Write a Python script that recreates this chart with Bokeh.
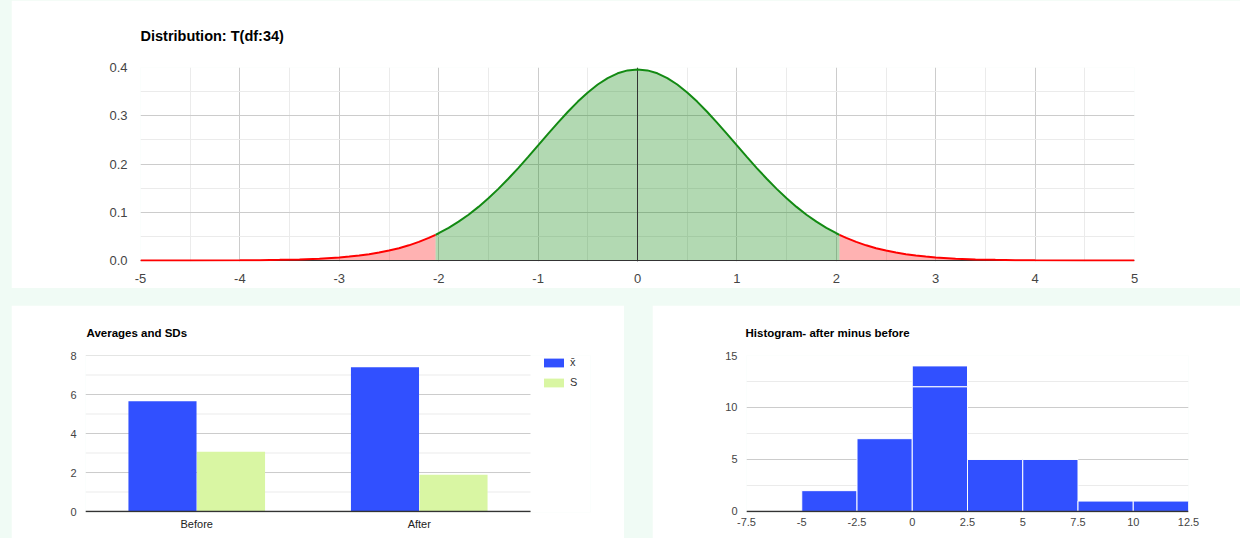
from bokeh.plotting import figure
from bokeh.models import Range1d, FixedTicker, Legend, LegendItem, Spacer
from bokeh.layouts import column, row
from bokeh.embed import file_html
from bokeh.resources import INLINE

FONT = "Liberation Sans"
MINT = "#f0fbf5"
BLUE = "#3150ff"
LIGHTGREEN = "#d9f6a3"
LABEL_COLOR = "#444444"

# ---------------- data: t distribution (df = 34) ----------------
t_title = "Distribution: T(df:34)"
t_x = [-5.0, -4.5, -4.0, -3.8, -3.6, -3.4, -3.2, -3.0, -2.9, -2.8, -2.7, -2.6,
       -2.5, -2.4, -2.3, -2.2, -2.1, -2.032, -2.0, -1.9, -1.8, -1.7, -1.6, -1.5,
       -1.4, -1.3, -1.2, -1.1, -1.0, -0.9, -0.8, -0.7, -0.6, -0.5, -0.4, -0.3,
       -0.2, -0.1, 0.0, 0.1, 0.2, 0.3, 0.4, 0.5, 0.6, 0.7, 0.8, 0.9, 1.0, 1.1,
       1.2, 1.3, 1.4, 1.5, 1.6, 1.7, 1.8, 1.9, 2.0, 2.032, 2.1, 2.2, 2.3, 2.4,
       2.5, 2.6, 2.7, 2.8, 2.9, 3.0, 3.2, 3.4, 3.6, 3.8, 4.0, 4.5, 5.0]
t_density = [0.00003, 0.00011, 0.00046, 0.00081, 0.00139, 0.00236, 0.00395,
             0.00650, 0.00828, 0.01049, 0.01322, 0.01658, 0.02067, 0.02560,
             0.03152, 0.03856, 0.04686, 0.05329, 0.05655, 0.06774, 0.08052,
             0.09499, 0.11117, 0.12903, 0.14850, 0.16945, 0.19163, 0.21476,
             0.23846, 0.26229, 0.28575, 0.30830, 0.32936, 0.34837, 0.36478,
             0.37812, 0.38796, 0.39399, 0.39602, 0.39399, 0.38796, 0.37812,
             0.36478, 0.34837, 0.32936, 0.30830, 0.28575, 0.26229, 0.23846,
             0.21476, 0.19163, 0.16945, 0.14850, 0.12903, 0.11117, 0.09499,
             0.08052, 0.06774, 0.05655, 0.05329, 0.04686, 0.03856, 0.03152,
             0.02560, 0.02067, 0.01658, 0.01322, 0.01049, 0.00828, 0.00650,
             0.00395, 0.00236, 0.00139, 0.00081, 0.00046, 0.00011, 0.00003]
t_critical = 2.032
top_x_ticks = [-5, -4, -3, -2, -1, 0, 1, 2, 3, 4, 5]
top_x_labels = ["-5", "-4", "-3", "-2", "-1", "0", "1", "2", "3", "4", "5"]
top_y_ticks = [0.0, 0.1, 0.2, 0.3, 0.4]
top_y_labels = ["0.0", "0.1", "0.2", "0.3", "0.4"]

# ---------------- data: averages and SDs ----------------
bar_title = "Averages and SDs"
bar_categories = ["Before", "After"]
bar_means = [5.66, 7.40]
bar_sds = [3.07, 1.89]
bar_series = ["x\u0304", "S"]
bar_y_ticks = [0, 2, 4, 6, 8]
bar_y_labels = ["0", "2", "4", "6", "8"]

# ---------------- data: histogram ----------------
hist_title = "Histogram- after minus before"
hist_edges = [-7.5, -5, -2.5, 0, 2.5, 5, 7.5, 10, 12.5]
hist_counts = [0, 2, 7, 14, 5, 5, 1, 1]
hist_breaks = [[], [], [], [12], [], [], [], []]
hist_x_labels = ["-7.5", "-5", "-2.5", "0", "2.5", "5", "7.5", "10", "12.5"]
hist_y_ticks = [0, 5, 10, 15]
hist_y_labels = ["0", "5", "10", "15"]


def mids(ticks):
    return [(a + b) / 2 for a, b in zip(ticks[:-1], ticks[1:])]


def style(p, size, xstand, ystand):
    p.outline_line_color = None
    p.background_fill_color = "white"
    p.border_fill_color = "white"
    for ax in (p.xaxis[0], p.yaxis[0]):
        ax.axis_line_color = None
        ax.major_tick_line_color = None
        ax.minor_tick_line_color = None
        ax.major_tick_out = 0
        ax.major_tick_in = 0
        ax.minor_tick_out = 0
        ax.minor_tick_in = 0
        ax.major_label_text_font = FONT
        ax.major_label_text_font_size = size
        ax.major_label_text_color = LABEL_COLOR
    p.xaxis[0].major_label_standoff = xstand
    p.yaxis[0].major_label_standoff = ystand


def set_title(p, text, size, standoff, offset):
    p.title.text = text
    p.title.align = "left"
    p.title.vertical_align = "bottom"
    p.title.offset = offset
    p.title.standoff = standoff
    p.title.text_font = FONT
    p.title.text_font_style = "bold"
    p.title.text_font_size = size
    p.title.text_color = "#000000"


# ================= top: distribution =================
p1 = figure(width=1229, height=288, x_range=Range1d(-5, 5), y_range=Range1d(-0.002, 0.4),
            output_backend="svg", toolbar_location=None,
            min_border_left=129, min_border_right=106, min_border_top=67, min_border_bottom=27)
style(p1, "13px", 12, 13)
set_title(p1, t_title, "14.5px", 48, 0)
p1.xaxis.ticker = FixedTicker(ticks=top_x_ticks, minor_ticks=mids(top_x_ticks))
p1.yaxis.ticker = FixedTicker(ticks=top_y_ticks, minor_ticks=mids(top_y_ticks))
p1.xaxis.major_label_overrides = dict(zip(top_x_ticks, top_x_labels))
p1.yaxis.major_label_overrides = dict(zip(top_y_ticks, top_y_labels))
for g in (p1.xgrid[0], p1.ygrid[0]):
    g.grid_line_color = "#cccccc"
    g.minor_grid_line_color = "#ebebeb"

mid_x = [x for x in t_x if abs(x) <= t_critical]
mid_y = [y for x, y in zip(t_x, t_density) if abs(x) <= t_critical]
left_x = [x for x in t_x if x <= -t_critical]
left_y = [y for x, y in zip(t_x, t_density) if x <= -t_critical]
right_x = [x for x in t_x if x >= t_critical]
right_y = [y for x, y in zip(t_x, t_density) if x >= t_critical]

p1.varea(x=mid_x, y1=0, y2=mid_y, fill_color="green", fill_alpha=0.3)
p1.varea(x=left_x, y1=0, y2=left_y, fill_color="red", fill_alpha=0.3)
p1.varea(x=right_x, y1=0, y2=right_y, fill_color="red", fill_alpha=0.3)
p1.hspan(y=[0], line_color="#333333", line_width=1)
p1.vspan(x=[0], line_color="#333333", line_width=1)
p1.line(mid_x, mid_y, line_color="#138a13", line_width=2)
p1.line(left_x, left_y, line_color="#ff0000", line_width=2)
p1.line(right_x, right_y, line_color="#ff0000", line_width=2)

# ================= bottom-left: averages and SDs =================
n_cat = len(bar_categories)
# frame is widened to the right so that the legend (which is clipped to the frame) fits
p2 = figure(width=613, height=233, x_range=Range1d(0, n_cat * 505 / 445),
            y_range=Range1d(-0.05, 8), output_backend="svg", toolbar_location=None,
            min_border_left=74, min_border_right=34, min_border_top=50, min_border_bottom=26)
style(p2, "11px", 5, 9)
set_title(p2, bar_title, "11.5px", 34, 1)
p2.xaxis[0].major_label_text_color = "#222222"
centers = [i + 0.5 for i in range(n_cat)]
p2.xaxis.ticker = FixedTicker(ticks=centers)
p2.xaxis.major_label_overrides = dict(zip(centers, bar_categories))
p2.yaxis.ticker = FixedTicker(ticks=bar_y_ticks)
p2.yaxis.major_label_overrides = dict(zip(bar_y_ticks, bar_y_labels))
p2.xgrid.grid_line_color = None
p2.ygrid.visible = False
minor_y = mids(bar_y_ticks)
p2.segment(x0=[0] * len(minor_y), x1=[n_cat] * len(minor_y), y0=minor_y, y1=minor_y,
           line_color="#ebebeb", line_width=1)
p2.segment(x0=[0] * len(bar_y_ticks), x1=[n_cat] * len(bar_y_ticks), y0=bar_y_ticks,
           y1=bar_y_ticks, line_color="#cccccc", line_width=1)

r_mean = p2.vbar(x=[c - 0.154 for c in centers], top=bar_means, width=0.306,
                 fill_color=BLUE, line_color=None)
r_sd = p2.vbar(x=[c + 0.154 for c in centers], top=bar_sds, width=0.306,
               fill_color=LIGHTGREEN, line_color=None)
p2.segment(x0=[0], x1=[n_cat], y0=[0], y1=[0], line_color="#333333", line_width=1.5)
legend = Legend(items=[LegendItem(label=bar_series[0], renderers=[r_mean]),
                       LegendItem(label=bar_series[1], renderers=[r_sd])],
                location=(456, 124), orientation="vertical",
                glyph_width=25, glyph_height=11, label_height=11, spacing=8,
                padding=0, margin=0, label_standoff=4,
                border_line_color=None, background_fill_alpha=0,
                label_text_font=FONT, label_text_font_size="11px",
                label_text_color="#333333")
p2.add_layout(legend)

# ================= bottom-right: histogram =================
p3 = figure(width=588, height=233, x_range=Range1d(hist_edges[0], hist_edges[-1]),
            y_range=Range1d(-0.1, 15), output_backend="svg", toolbar_location=None,
            min_border_left=94, min_border_right=52, min_border_top=50, min_border_bottom=26)
style(p3, "11px", 5, 9)
set_title(p3, hist_title, "11.5px", 34, -1)
p3.xaxis.ticker = FixedTicker(ticks=hist_edges)
p3.xaxis.major_label_overrides = dict(zip(hist_edges, hist_x_labels))
p3.yaxis.ticker = FixedTicker(ticks=hist_y_ticks, minor_ticks=mids(hist_y_ticks))
p3.yaxis.major_label_overrides = dict(zip(hist_y_ticks, hist_y_labels))
p3.xgrid.grid_line_color = None
p3.ygrid.grid_line_color = "#cccccc"
p3.ygrid.minor_grid_line_color = "#ebebeb"

q_left, q_right, q_bottom, q_top = [], [], [], []
for i, cnt in enumerate(hist_counts):
    if cnt <= 0:
        continue
    levels = [0] + hist_breaks[i] + [cnt]
    for b, t in zip(levels[:-1], levels[1:]):
        q_left.append(hist_edges[i])
        q_right.append(hist_edges[i + 1])
        q_bottom.append(b)
        q_top.append(t)
p3.quad(left=q_left, right=q_right, bottom=q_bottom, top=q_top,
        fill_color=BLUE, line_color="white", line_width=1)
p3.hspan(y=[0], line_color="#333333", line_width=1.5)

layout = row(Spacer(width=11),
             column(p1, Spacer(height=17),
                    row(p2, Spacer(width=28), p3)),
             styles={"background-color": MINT})

open("out.html", "w").write(file_html(layout, INLINE))
